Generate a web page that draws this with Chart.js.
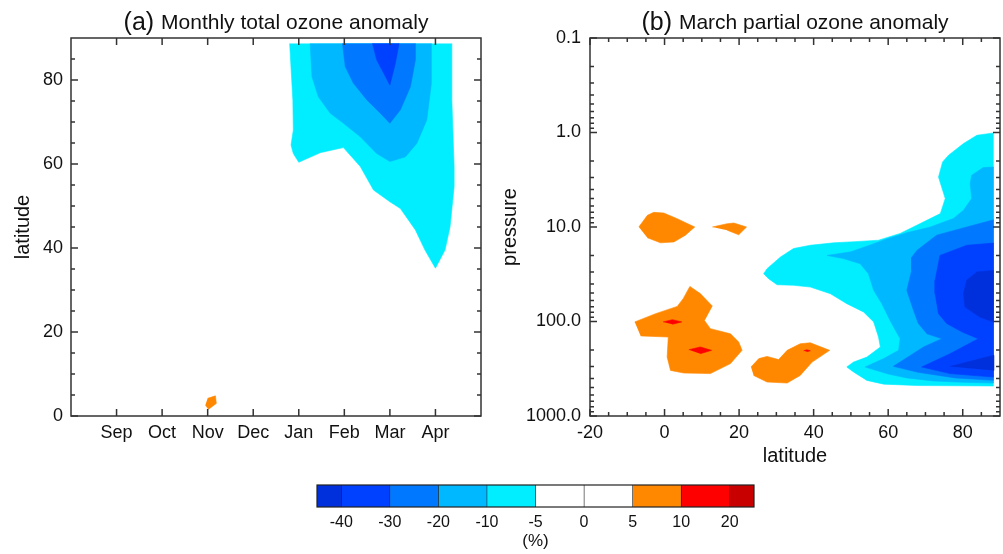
<!DOCTYPE html>
<html>
<head>
<meta charset="utf-8">
<script src="https://cdn.jsdelivr.net/npm/chart.js@4.4.1/dist/chart.umd.min.js"></script>
<style>
  body { margin: 0; background: #fff; }
  #page { position: relative; width: 1003px; height: 554px; overflow: hidden; }
  canvas { position: absolute; }
</style>
</head>
<body>
<div id="page">
  <canvas id="panelA" width="500" height="470" style="left:0;top:0"></canvas>
  <canvas id="panelB" width="508" height="470" style="left:495px;top:0"></canvas>
  <canvas id="colorBar" width="470" height="84" style="left:300px;top:470px"></canvas>
</div>
<script>
// contour levels (%) and their fill colours
const levels = [-40, -30, -20, -10, -5, 0, 5, 10, 20];
const levelColors = ['#0030dc', '#0040ff', '#0078ff', '#00b8ff', '#00eeff', '#ffffff', '#ffffff', '#ff8800', '#ff0000', '#c80000'];

// (a) month axis: Aug = 0 ... May = 9
const monthLabels = ['', 'Sep', 'Oct', 'Nov', 'Dec', 'Jan', 'Feb', 'Mar', 'Apr', ''];
const monthTicks = [1, 2, 3, 4, 5, 6, 7, 8];
const latTicksA = [0, 20, 40, 60, 80];

// (a) filled contours, [month, latitude]
const aBelow5 = [[4.80, 88.7], [4.87, 75.2], [4.88, 68.1], [4.83, 64.5], [4.88, 62.5], [5.0, 60.4], [5.47, 62.7], [5.98, 63.9], [6.35, 59.4], [6.64, 53.8], [7.0, 51.0], [7.23, 49.4], [7.56, 44.3], [7.77, 39.5], [8.0, 35.2], [8.21, 39.5], [8.32, 45.0], [8.41, 54.6], [8.41, 59.4], [8.36, 75.2], [8.36, 88.7]];
const aBelow10 = [[5.25, 88.7], [5.29, 80.8], [5.43, 76.0], [5.69, 72.1], [5.98, 69.7], [6.35, 66.5], [6.71, 62.5], [7.0, 60.6], [7.34, 61.7], [7.59, 64.9], [7.81, 70.5], [7.91, 79.2], [7.91, 88.7]];
const aBelow20 = [[5.96, 88.7], [6.02, 83.2], [6.20, 79.2], [6.50, 75.2], [6.79, 72.1], [7.0, 69.7], [7.23, 72.9], [7.45, 78.4], [7.56, 84.8], [7.56, 88.7]];
const aBelow30 = [[6.62, 88.7], [6.71, 84.8], [7.0, 78.8], [7.12, 84.0], [7.2, 88.7]];
const aAbove5 = [[3.0, 4.2], [3.17, 4.8], [3.19, 3.0], [3.02, 1.6], [2.95, 2.6]];

// (b) axes
const latTicksB = [-20, 0, 20, 40, 60, 80];
const pressureTicks = [0.1, 1, 10, 100, 1000];

// (b) filled contours, [latitude, pressure hPa]
const bBelow5 = [[88.3, 1.01], [83.8, 1.07], [80.2, 1.31], [76.2, 1.74], [74.6, 2.05], [73.5, 2.96], [75.3, 5.0], [74.0, 7.2], [68.6, 9.2], [63.2, 11.7], [57.4, 13.8], [51.0, 14.3], [45.4, 14.7], [39.1, 15.6], [34.6, 16.9], [31.1, 20.8], [27.5, 27.6], [26.6, 31.2], [27.9, 35.2], [30.2, 40.8], [34.6, 41.4], [39.1, 43.2], [44.5, 50.8], [48.9, 64.8], [53.4, 79.4], [56.1, 101], [57.4, 146], [57.9, 186], [54.3, 238], [50.7, 269], [48.9, 303], [50.7, 342], [54.3, 420], [58.8, 460], [67.7, 476], [88.3, 481]];
const bBelow10 = [[88.3, 2.32], [85.5, 2.35], [82.4, 2.84], [82.0, 3.47], [82.4, 5.0], [80.2, 6.66], [77.5, 8.14], [71.3, 10], [65.0, 11.5], [60.0, 13.2], [55.2, 15.5], [50.0, 18.3], [43.6, 20], [48.0, 21.6], [52.5, 24.5], [54.7, 31.2], [56.1, 46.8], [58.3, 64.8], [60.5, 97.3], [63.2, 152], [62.8, 202], [58.8, 247], [53.8, 303], [60.0, 360], [65.0, 395], [72.0, 425], [80.0, 440], [88.3, 448]];
const bBelow20 = [[88.3, 8.4], [81.1, 10], [73.0, 12.2], [67.7, 17.7], [66.3, 21], [66.3, 28.8], [65.0, 46.8], [66.8, 76.3], [68.1, 105], [70.4, 135], [74.4, 152], [69.5, 186], [61.4, 298], [68.0, 345], [78.0, 395], [88.3, 419]];
const bBelow30 = [[88.3, 14.8], [81.1, 15.6], [73.9, 20], [72.6, 36.6], [72.6, 50.7], [73.5, 82.6], [75.7, 105], [80.0, 130], [84.2, 152], [76.6, 219], [69.0, 303], [76.6, 356], [88.3, 387]];
const bBelow40Upper = [[88.3, 28.8], [83.8, 29.9], [81.1, 36.6], [80.2, 50.7], [80.6, 70.3], [84.6, 89.6], [88.3, 101]];
const bBelow40Lower = [[76.6, 300], [88.3, 228], [88.3, 330]];
const bAbove5a = [[-6.9, 10], [-4.6, 7.53], [-2.9, 7.0], [-0.2, 7.11], [3.4, 8.17], [8.1, 10], [5.6, 12.2], [2.5, 14.4], [-1.1, 14.7], [-4.6, 13.0]];
const bAbove5b = [[12.8, 10], [16.8, 9.23], [18.6, 9.08], [22.0, 10], [19.9, 12.1], [16.8, 10.8]];
const bAbove5c = [[-8.0, 101], [-2.4, 82.6], [3.4, 69.2], [5.0, 57.3], [6.8, 42.5], [9.6, 50.7], [12.8, 68.5], [10.7, 97.3], [12.3, 119], [17.7, 135], [19.9, 165], [20.8, 202], [17.7, 279], [12.3, 356], [5.2, 351], [1.6, 329], [0.7, 238], [1.0, 146], [-6.4, 142]];
const bAbove5d = [[23.2, 303], [25.3, 247], [27.5, 234], [30.6, 253], [32.9, 202], [36.4, 172], [39.1, 168], [44.3, 202], [39.6, 269], [36.4, 372], [32.9, 448], [27.5, 437], [23.9, 372]];
const bAbove10a = [[-0.4, 101], [2.1, 95.7], [4.6, 101], [2.1, 107]];
const bAbove10b = [[6.5, 199], [9.6, 186], [12.6, 202], [9.6, 219]];
const bAbove10c = [[37.3, 204], [38.2, 199], [39.1, 204], [38.2, 209]];

const family = '"Liberation Sans", Arial, Helvetica, sans-serif';
const frameColor = '#333';

function shape(points, color) {
    return {
        data: points.map(p => ({ x: p[0], y: p[1] })),
        showLine: true,
        fill: 'shape',
        backgroundColor: color,
        borderColor: color,
        borderWidth: 0.6,
        pointRadius: 0,
        tension: 0
    };
}

// chart.js paints the first dataset on top, so the list is
// given back-to-front and each gets an explicit drawing order
function layered(list) {
    return list.map((ds, i) => Object.assign(ds, { order: list.length - i }));
}

function range(from, to, step, skip) {
    const out = [];
    for (let v = from; v <= to + 1e-9; v += step) {
        if (!skip.includes(v)) out.push(v);
    }
    return out;
}

// box with inward tick marks on all four sides
const frameTicks = {
    id: 'frameTicks',
    afterDatasetsDraw(chart, args, opts) {
        const { ctx, chartArea: a, scales } = chart;
        const x = scales.x, y = scales.y;
        ctx.save();
        ctx.strokeStyle = frameColor;
        ctx.lineWidth = 1.5;
        ctx.beginPath();
        const xs = (vals, len) => vals.forEach(v => {
            const px = x.getPixelForValue(v);
            ctx.moveTo(px, a.bottom); ctx.lineTo(px, a.bottom - len);
            ctx.moveTo(px, a.top); ctx.lineTo(px, a.top + len);
        });
        const ys = (vals, len) => vals.forEach(v => {
            const py = y.getPixelForValue(v);
            ctx.moveTo(a.left, py); ctx.lineTo(a.left + len, py);
            ctx.moveTo(a.right, py); ctx.lineTo(a.right - len, py);
        });
        xs(opts.xMajor || [], 7);
        xs(opts.xMinor || [], 4);
        ys(opts.yMajor || [], 7);
        ys(opts.yMinor || [], 4);
        ctx.stroke();
        ctx.strokeRect(a.left, a.top, a.right - a.left, a.bottom - a.top);
        ctx.restore();
    }
};

// "(a) Monthly ..." title with a larger tag
const panelTitle = {
    id: 'panelTitle',
    afterDraw(chart, args, opts) {
        if (!opts.text) return;
        const { ctx, chartArea: a } = chart;
        ctx.save();
        ctx.fillStyle = '#111';
        ctx.textBaseline = 'alphabetic';
        ctx.font = '25px ' + family;
        const tagW = ctx.measureText(opts.tag + ' ').width;
        ctx.font = '21px ' + family;
        const textW = ctx.measureText(opts.text).width;
        let x0 = (a.left + a.right) / 2 - (tagW + textW) / 2;
        ctx.textAlign = 'left';
        ctx.font = '25px ' + family;
        ctx.fillText(opts.tag, x0, 30);
        ctx.font = '21px ' + family;
        ctx.fillText(opts.text, x0 + tagW, 29);
        ctx.restore();
    }
};

const tickFont = { family: family, size: 18 };
const titleFont = { family: family, size: 20 };

// (a) Monthly total ozone anomaly
new Chart(document.getElementById('panelA'), {
    type: 'scatter',
    data: {
        datasets: layered([
            shape(aBelow5, levelColors[4]),
            shape(aBelow10, levelColors[3]),
            shape(aBelow20, levelColors[2]),
            shape(aBelow30, levelColors[1]),
            shape(aAbove5, levelColors[7])
        ])
    },
    options: {
        responsive: false,
        animation: false,
        events: [],
        layout: { padding: { top: 38, right: 19, left: 0, bottom: 0 } },
        scales: {
            x: {
                type: 'linear', min: 0, max: 9,
                grid: { display: false, drawTicks: false },
                border: { display: false },
                afterBuildTicks: s => { s.ticks = monthTicks.map(v => ({ value: v })); },
                afterFit: s => { s.height = 54; },
                ticks: { autoSkip: false, maxRotation: 0, padding: 6, color: '#111', font: tickFont,
                    callback: v => monthLabels[v] }
            },
            y: {
                type: 'linear', min: 0, max: 90,
                grid: { display: false, drawTicks: false },
                border: { display: false },
                afterBuildTicks: s => { s.ticks = latTicksA.map(v => ({ value: v })); },
                afterFit: s => { s.width = 71; },
                ticks: { padding: 8, color: '#111', font: tickFont },
                title: { display: true, text: 'latitude', color: '#111', font: titleFont, padding: { top: 11, bottom: 0 } }
            }
        },
        plugins: {
            legend: { display: false },
            tooltip: { enabled: false },
            frameTicks: { xMajor: monthTicks, yMajor: latTicksA, yMinor: range(5, 85, 5, latTicksA) },
            panelTitle: { tag: '(a)', text: 'Monthly total ozone anomaly' }
        }
    },
    plugins: [frameTicks, panelTitle]
});

// log minor ticks 2..9 per decade
const pressureMinor = [];
pressureTicks.slice(0, -1).forEach(d => { for (let k = 2; k <= 9; k++) pressureMinor.push(d * k); });

// (b) March partial ozone anomaly
new Chart(document.getElementById('panelB'), {
    type: 'scatter',
    data: {
        datasets: layered([
            shape(bBelow5, levelColors[4]),
            shape(bBelow10, levelColors[3]),
            shape(bBelow20, levelColors[2]),
            shape(bBelow30, levelColors[1]),
            shape(bBelow40Upper, levelColors[0]),
            shape(bBelow40Lower, levelColors[0]),
            shape(bAbove5a, levelColors[7]),
            shape(bAbove5b, levelColors[7]),
            shape(bAbove5c, levelColors[7]),
            shape(bAbove5d, levelColors[7]),
            shape(bAbove10a, levelColors[8]),
            shape(bAbove10b, levelColors[8]),
            shape(bAbove10c, levelColors[8])
        ])
    },
    options: {
        responsive: false,
        animation: false,
        events: [],
        layout: { padding: { top: 38, right: 3, left: 0, bottom: 0 } },
        scales: {
            x: {
                type: 'linear', min: -20, max: 90,
                grid: { display: false, drawTicks: false },
                border: { display: false },
                afterBuildTicks: s => { s.ticks = latTicksB.map(v => ({ value: v })); },
                afterFit: s => { s.height = 54; },
                ticks: { autoSkip: false, maxRotation: 0, padding: 6, color: '#111', font: tickFont },
                title: { display: true, text: 'latitude', color: '#111', font: titleFont, padding: { top: 0, bottom: 2 } }
            },
            y: {
                type: 'logarithmic', min: 0.1, max: 1000, reverse: true,
                grid: { display: false, drawTicks: false },
                border: { display: false },
                afterBuildTicks: s => { s.ticks = pressureTicks.map(v => ({ value: v })); },
                afterFit: s => { s.width = 95; },
                ticks: { padding: 9, color: '#111', font: tickFont, callback: v => Number(v).toFixed(1) },
                title: { display: true, text: 'pressure', color: '#111', font: titleFont, padding: { top: 3, bottom: 0 } }
            }
        },
        plugins: {
            legend: { display: false },
            tooltip: { enabled: false },
            frameTicks: { xMajor: latTicksB, xMinor: range(-15, 85, 5, latTicksB), yMajor: pressureTicks, yMinor: pressureMinor },
            panelTitle: { tag: '(b)', text: 'March partial ozone anomaly' }
        }
    },
    plugins: [frameTicks, panelTitle]
});

// colour bar: open-ended end boxes are half width
const segWidths = levelColors.map((c, i) => (i === 0 || i === levelColors.length - 1) ? 0.5 : 1);

const barFrame = {
    id: 'barFrame',
    afterDatasetsDraw(chart) {
        const { ctx, chartArea: a } = chart;
        ctx.save();
        ctx.strokeStyle = '#222';
        ctx.lineWidth = 1.2;
        ctx.strokeRect(a.left, a.top, a.right - a.left, a.bottom - a.top);
        ctx.restore();
    }
};

new Chart(document.getElementById('colorBar'), {
    type: 'bar',
    data: {
        labels: [''],
        datasets: levelColors.map((c, i) => ({
            data: [segWidths[i]],
            backgroundColor: c,
            borderColor: '#222',
            borderWidth: { left: 0.6, right: 0.6, top: 0, bottom: 0 },
            borderSkipped: false,
            barPercentage: 1,
            categoryPercentage: 1
        }))
    },
    options: {
        indexAxis: 'y',
        responsive: false,
        animation: false,
        events: [],
        layout: { padding: { top: 15, right: 16, left: 17, bottom: 0 } },
        scales: {
            x: {
                stacked: true, min: 0, max: 9,
                grid: { display: false, drawTicks: false },
                border: { display: false },
                afterBuildTicks: s => { s.ticks = levels.map((v, i) => ({ value: i + 0.5 })); },
                afterFit: s => { s.height = 47; },
                ticks: { autoSkip: false, maxRotation: 0, padding: 6, color: '#111', font: { family: family, size: 16 },
                    callback: (v, i) => levels[i] },
                title: { display: true, text: '(%)', color: '#111', font: { family: family, size: 17 }, padding: { top: 0, bottom: 2 } }
            },
            y: { stacked: true, display: false }
        },
        plugins: { legend: { display: false }, tooltip: { enabled: false } }
    },
    plugins: [barFrame]
});
</script>
</body>
</html>
